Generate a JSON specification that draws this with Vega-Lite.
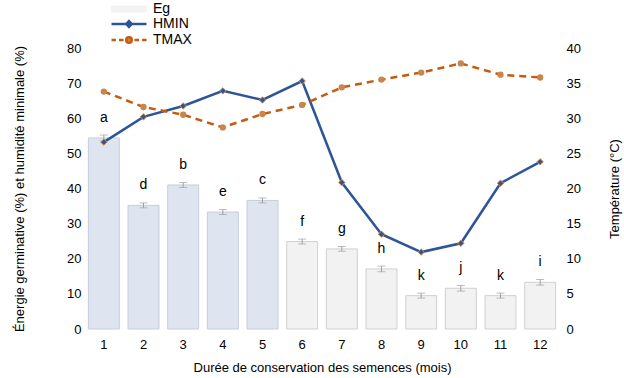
{
  "$schema": "https://vega.github.io/schema/vega-lite/v6.json",
  "width": 476,
  "height": 281,
  "autosize": {"type": "none"},
  "padding": {"left": 84, "top": 48, "right": 64, "bottom": 49},
  "config": {
    "font": "Liberation Sans",
    "view": {"stroke": null},
    "axis": {
      "labelFont": "Liberation Sans", "titleFont": "Liberation Sans",
      "labelFontSize": 13, "titleFontSize": 13, "titleFontWeight": "normal",
      "labelColor": "#000", "titleColor": "#000",
      "grid": false, "domain": false, "ticks": false
    },
    "legend": {"labelFont": "Liberation Sans", "labelFontSize": 14, "labelColor": "#000"}
  },
  "data": {
    "values": [
      {"mois": 1, "Eg": 54.4, "err": 0.8, "lettre": "a", "HMIN": 53.2, "TMAX": 33.8},
      {"mois": 2, "Eg": 35.2, "err": 0.7, "lettre": "d", "HMIN": 60.4, "TMAX": 31.6},
      {"mois": 3, "Eg": 41.0, "err": 0.7, "lettre": "b", "HMIN": 63.5, "TMAX": 30.5},
      {"mois": 4, "Eg": 33.3, "err": 0.7, "lettre": "e", "HMIN": 67.8, "TMAX": 28.7},
      {"mois": 5, "Eg": 36.6, "err": 0.7, "lettre": "c", "HMIN": 65.2, "TMAX": 30.6},
      {"mois": 6, "Eg": 24.9, "err": 0.7, "lettre": "f", "HMIN": 70.6, "TMAX": 31.9},
      {"mois": 7, "Eg": 22.8, "err": 0.7, "lettre": "g", "HMIN": 41.7, "TMAX": 34.4},
      {"mois": 8, "Eg": 17.1, "err": 0.8, "lettre": "h", "HMIN": 27.0, "TMAX": 35.5},
      {"mois": 9, "Eg": 9.5, "err": 0.7, "lettre": "k", "HMIN": 21.9, "TMAX": 36.5},
      {"mois": 10, "Eg": 11.6, "err": 0.8, "lettre": "j", "HMIN": 24.4, "TMAX": 37.8},
      {"mois": 11, "Eg": 9.5, "err": 0.7, "lettre": "k", "HMIN": 41.5, "TMAX": 36.2},
      {"mois": 12, "Eg": 13.3, "err": 0.8, "lettre": "i", "HMIN": 47.6, "TMAX": 35.8}
    ]
  },
  "encoding": {
    "x": {
      "field": "mois", "type": "ordinal",
      "scale": {"paddingInner": 0.22, "paddingOuter": 0.11},
      "axis": {"title": "Durée de conservation des semences (mois)", "labelAngle": 0, "labelPadding": 9, "titlePadding": 10}
    }
  },
  "layer": [
    {
      "encoding": {
        "y": {
          "field": "Eg", "type": "quantitative",
          "scale": {"domain": [0, 80]},
          "axis": {"title": "Énergie germinative (%) et humidité minimale (%)", "values": [0,10,20,30,40,50,60,70,80], "labelOverlap": false, "labelPadding": 3, "titlePadding": 40}
        }
      },
      "layer": [
        {
          "mark": {"type": "bar", "strokeWidth": 1},
          "encoding": {
            "fill": {"condition": {"test": "datum.mois <= 5", "value": "#dfe5f0"}, "value": "#f2f2f2"},
            "stroke": {"condition": {"test": "datum.mois <= 5", "value": "#c6cedb"}, "value": "#d0d0d0"}
          }
        },
        {
          "mark": {"type": "errorbar", "color": "#a0a0a0", "ticks": {"size": 8, "color": "#a0a0a0"}},
          "encoding": {
            "yError": {"field": "err"}
          }
        },
        {
          "mark": {"type": "text", "dy": -20, "fontSize": 14, "font": "Liberation Sans", "color": "#000"},
          "encoding": {
            "text": {"field": "lettre"}
          }
        },
        {
          "mark": {"type": "line", "strokeWidth": 2.5},
          "encoding": {
            "y": {"field": "HMIN", "type": "quantitative"},
            "color": {
              "datum": "HMIN",
              "scale": {"domain": ["Eg", "HMIN", "TMAX"], "range": ["#f2f2f2", "#2e5597", "#c55a11"]},
              "legend": {
                "title": null, "orient": "none", "legendX": 38, "legendY": -46,
                "padding": 0, "rowPadding": 0, "labelOffset": 17, "symbolSize": 100,
                "encode": {
                  "symbols": {
                    "update": {
                      "shape": {"signal": "datum.value === 'Eg' ? 'M-3.5,-0.6H3.5V0.6H-3.5Z' : datum.value === 'HMIN' ? 'M-3.5,0H3.5M0,-0.6L0.55,0L0,0.6L-0.55,0Z' : 'M-3.5,0H-2.6M-2,0H-1.1M1.1,0H2M2.6,0H3.5M0.55,0A0.55,0.55,0,1,1,-0.55,0A0.55,0.55,0,1,1,0.55,0Z'"},
                      "fill": {"signal": "datum.value === 'Eg' ? '#f2f2f2' : datum.value === 'HMIN' ? '#d08a4a' : '#c8864f'"},
                      "stroke": {"signal": "datum.value === 'Eg' ? '#c0c0c0' : datum.value === 'HMIN' ? '#2e5597' : '#c55a11'"},
                      "strokeWidth": {"signal": "datum.value === 'Eg' ? 1 : 2.5"},
                      "strokeDash": {"value": []},
                      "opacity": {"value": 1},
                      "size": {"value": 100}
                    }
                  }
                }
              }
            }
          }
        },
        {
          "mark": {"type": "point", "shape": "diamond", "filled": true, "fill": "#2e5597", "stroke": "#d08a4a", "strokeWidth": 1, "size": 40, "opacity": 1},
          "encoding": {
            "y": {"field": "HMIN", "type": "quantitative"}
          }
        }
      ]
    },
    {
      "encoding": {
        "y": {
          "field": "TMAX", "type": "quantitative",
          "scale": {"domain": [0, 40]},
          "axis": {"orient": "right", "title": "Température (°C)", "values": [0,5,10,15,20,25,30,35,40], "labelOverlap": false, "labelPadding": 6, "titlePadding": 41, "titleAngle": 270}
        }
      },
      "layer": [
        {
          "mark": {"type": "line", "strokeWidth": 2.5, "strokeDash": [7, 5]},
          "encoding": {
            "color": {"datum": "TMAX"}
          }
        },
        {
          "mark": {"type": "point", "shape": "circle", "filled": true, "color": "#c8864f", "size": 40, "opacity": 1}
        }
      ]
    }
  ],
  "resolve": {"scale": {"y": "independent"}}
}
